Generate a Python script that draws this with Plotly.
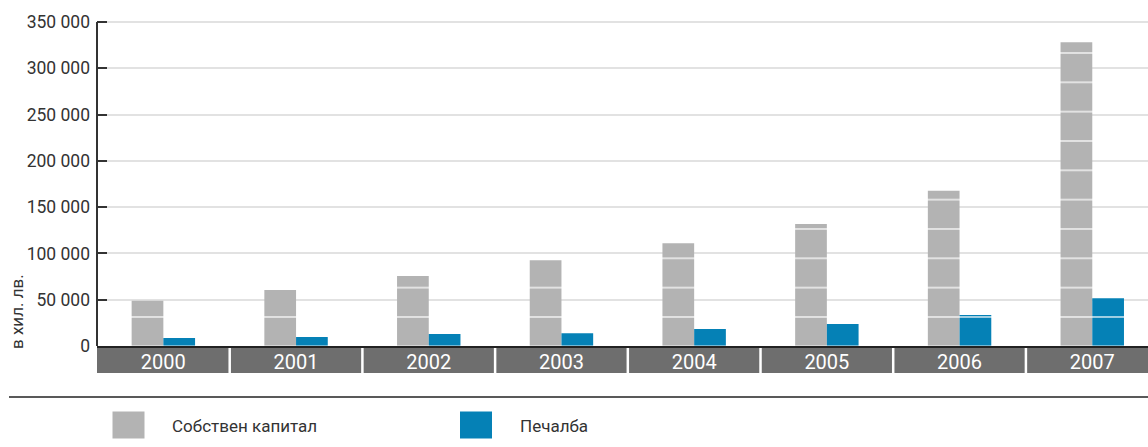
import plotly.graph_objects as go

# --- data (thousand BGN) ---
years = ["2000", "2001", "2002", "2003", "2004", "2005", "2006", "2007"]
equity = [49000, 60500, 75600, 92600, 110900, 131800, 167800, 328000]
profit = [8600, 9700, 13000, 13700, 18400, 23800, 33500, 51500]
y_ticks = [0, 50000, 100000, 150000, 200000, 250000, 300000, 350000]

GRAY = "#b3b3b3"
BLUE = "#0581b6"
BAND = "#6e6e6e"
TEXT = "#333333"
FONT = "Roboto"

W, H = 1148, 447
ML, MR, MT, MB = 97, 0, 9, 101
PW, PH = W - ML - MR, H - MT - MB


def px_x(x):
    return (x - ML) / PW


def px_y(y):
    return (H - MB - y) / PH


# the 350 000 tick sits at y=22 px; the plot area runs a bit higher
y_top = 350000 * PH / (PH - (22 - MT))

stripe = dict(shape="-", size=29.33, solidity=0.042, fgcolor="white", fgopacity=1)

fig = go.Figure()
fig.add_trace(go.Bar(
    x=years, y=equity, name="Собствен капитал",
    marker=dict(color=GRAY, line=dict(width=0), pattern=dict(bgcolor=GRAY, **stripe)),
    showlegend=False,
))
fig.add_trace(go.Bar(
    x=years, y=profit, name="Печалба",
    marker=dict(color=BLUE, line=dict(width=0), pattern=dict(bgcolor=BLUE, **stripe)),
    showlegend=False,
))

shapes = []
# dark band behind the year labels
shapes.append(dict(type="rect", xref="paper", yref="paper",
                   x0=0, x1=1, y0=px_y(348), y1=px_y(373),
                   fillcolor=BAND, line=dict(width=0), layer="below"))
# white separators between years
for i in range(len(years) - 1):
    shapes.append(dict(type="line", xref="x", yref="paper",
                       x0=i + 0.5, x1=i + 0.5, y0=px_y(348), y1=px_y(374),
                       line=dict(color="white", width=2.5)))
# value axis line up to the top tick
shapes.append(dict(type="line", xref="paper", yref="y",
                   x0=0, x1=0, y0=0, y1=y_ticks[-1],
                   line=dict(color=TEXT, width=2)))
# rule above the legend
shapes.append(dict(type="line", xref="paper", yref="paper",
                   x0=px_x(9), x1=1, y0=px_y(397), y1=px_y(397),
                   line=dict(color="#222222", width=1.5)))
# legend swatches
for x0, col in [(112.5, GRAY), (460, BLUE)]:
    shapes.append(dict(type="rect", xref="paper", yref="paper",
                       x0=px_x(x0), x1=px_x(x0 + 32), y0=px_y(411.5), y1=px_y(438.5),
                       fillcolor=col, line=dict(width=0)))

annotations = [
    dict(text="Собствен капитал", xref="paper", yref="paper",
         x=px_x(170), y=px_y(426), xanchor="left", yanchor="middle",
         showarrow=False, font=dict(family=FONT, size=17, color=TEXT)),
    dict(text="Печалба", xref="paper", yref="paper",
         x=px_x(518), y=px_y(426), xanchor="left", yanchor="middle",
         showarrow=False, font=dict(family=FONT, size=17, color=TEXT)),
    dict(text="в хил. лв.", xref="paper", yref="paper",
         x=px_x(17), y=px_y(312), xanchor="center", yanchor="middle",
         textangle=-90, showarrow=False, font=dict(family=FONT, size=17, color=TEXT)),
]

fig.update_layout(
    width=W, height=H,
    margin=dict(l=ML, r=MR, t=MT, b=MB, pad=0),
    paper_bgcolor="white", plot_bgcolor="white",
    barmode="group", bargap=0.522, bargroupgap=0,
    separators=". ",
    font=dict(family=FONT, color=TEXT),
    shapes=shapes, annotations=annotations,
    showlegend=False,
)
fig.update_xaxes(
    type="category", range=[-0.5, 7.42],
    showgrid=False, zeroline=False,
    showline=True, linecolor="#222222", linewidth=2,
    ticks="", tickfont=dict(family=FONT, size=20, color="white"),
    ticklabelstandoff=-3,
    fixedrange=True,
)
fig.update_yaxes(
    range=[0, y_top],
    tickvals=y_ticks, tickformat=",d",
    showline=False, zeroline=False,
    showgrid=True, gridcolor="#e2e2e2", gridwidth=1.5,
    ticks="inside", ticklen=10, tickwidth=2, tickcolor=TEXT,
    tickfont=dict(family=FONT, size=17.5, color=TEXT),
    ticklabelstandoff=6,
    fixedrange=True,
)

fig.write_html("out.html")
